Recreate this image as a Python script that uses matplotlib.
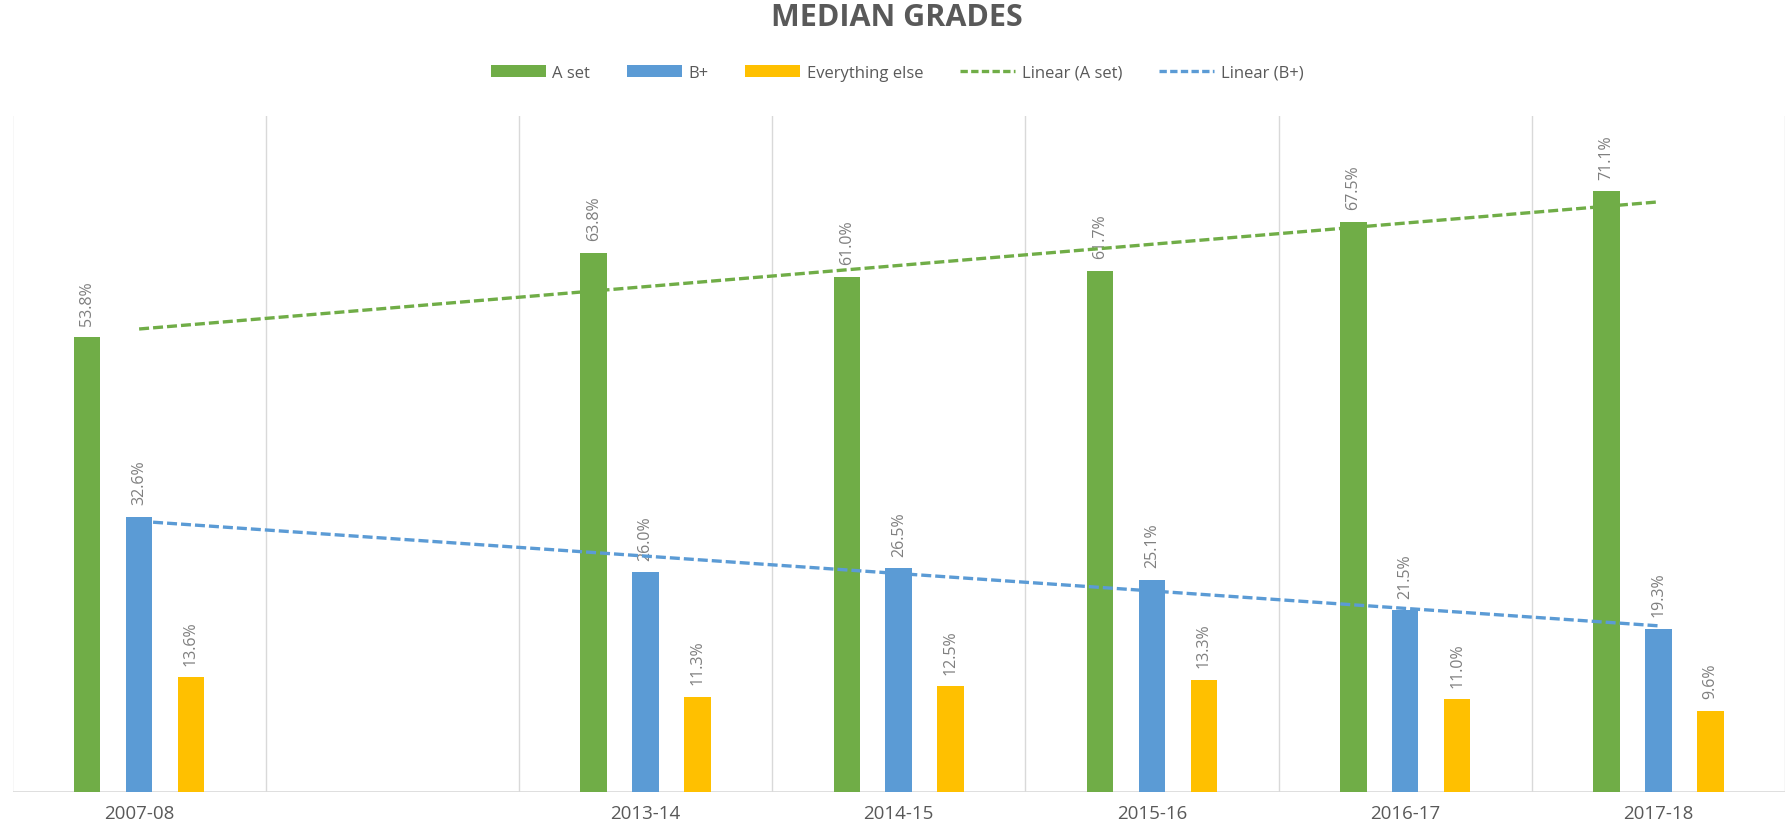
import numpy as np
import matplotlib
matplotlib.use("Agg")
import matplotlib.pyplot as plt
from matplotlib.patches import Patch
from matplotlib.lines import Line2D

categories = ["2007-08", "", "2013-14", "2014-15", "2015-16", "2016-17", "2017-18"]
a_set = [53.8, np.nan, 63.8, 61.0, 61.7, 67.5, 71.1]
b_plus = [32.6, np.nan, 26.0, 26.5, 25.1, 21.5, 19.3]
everything_else = [13.6, np.nan, 11.3, 12.5, 13.3, 11.0, 9.6]

GREEN = "#70AD47"
BLUE = "#5B9BD5"
YELLOW = "#FFC000"
TXT = "#595959"
LBL = "#7F7F7F"
GRID = "#D9D9D9"

W, H = 1787, 828
fig = plt.figure(figsize=(W / 100, H / 100), dpi=100)
ax = fig.add_axes([12.5 / W, 1 - 793 / H, 1772.5 / W, 676 / H])

x = np.arange(len(categories))
bw = 0.105
off = 0.205
series = [(a_set, GREEN, -off), (b_plus, BLUE, 0.0), (everything_else, YELLOW, off)]
for vals, col, dx in series:
    v = np.array(vals, dtype=float)
    m = ~np.isnan(v)
    ax.bar(x[m] + dx, v[m], width=bw, color=col, zorder=2)
    for xi, yi in zip(x[m] + dx, v[m]):
        ax.annotate(f"{yi:.1f}%", (xi, yi), xytext=(0, 9), textcoords="offset points",
                    rotation=90, ha="center", va="bottom", fontsize=11.5,
                    color=LBL, family="Open Sans", zorder=3)

# linear trendlines (least squares over category positions)
for vals, col in [(a_set, GREEN), (b_plus, BLUE)]:
    v = np.array(vals, dtype=float)
    m = ~np.isnan(v)
    k, b = np.polyfit(x[m], v[m], 1)
    xs = np.array([x[0], x[-1]], dtype=float)
    ax.plot(xs, k * xs + b, color=col, lw=2.4, dashes=(3, 1.2), zorder=5)

ax.set_xlim(-0.5, len(categories) - 0.5)
ax.set_ylim(0, 80)
for b in np.arange(-0.5, len(categories), 1.0):
    ax.axvline(b, color=GRID, lw=1, zorder=0)
ax.axhline(0, color=GRID, lw=1.2, zorder=1)
for s in ax.spines.values():
    s.set_visible(False)
ax.set_yticks([])
ax.set_xticks(x)
ax.set_xticklabels(categories, fontsize=13.5, color=TXT, family="Open Sans")
ax.tick_params(axis="x", length=0, pad=9)

fig.text(0.502, 1 - 18 / H, "MEDIAN GRADES", ha="center", va="center",
         fontsize=22, fontweight="bold", color=TXT, family="Open Sans")

handles = [
    Patch(facecolor=GREEN, label="A set"),
    Patch(facecolor=BLUE, label="B+"),
    Patch(facecolor=YELLOW, label="Everything else"),
    Line2D([], [], color=GREEN, lw=2.4, dashes=(2.2, 1.0), label="Linear (A set)"),
    Line2D([], [], color=BLUE, lw=2.4, dashes=(2.2, 1.0), label="Linear (B+)"),
]
leg = fig.legend(handles=handles, loc="center", bbox_to_anchor=(0.502, 1 - 74 / H), ncol=5,
                 frameon=False, prop={"family": "Open Sans", "size": 12},
                 handlelength=3.3, handleheight=0.7, handletextpad=0.4, columnspacing=2.2)
for t in leg.get_texts():
    t.set_color(TXT)

fig.savefig("out.png", dpi=100, facecolor="white")
